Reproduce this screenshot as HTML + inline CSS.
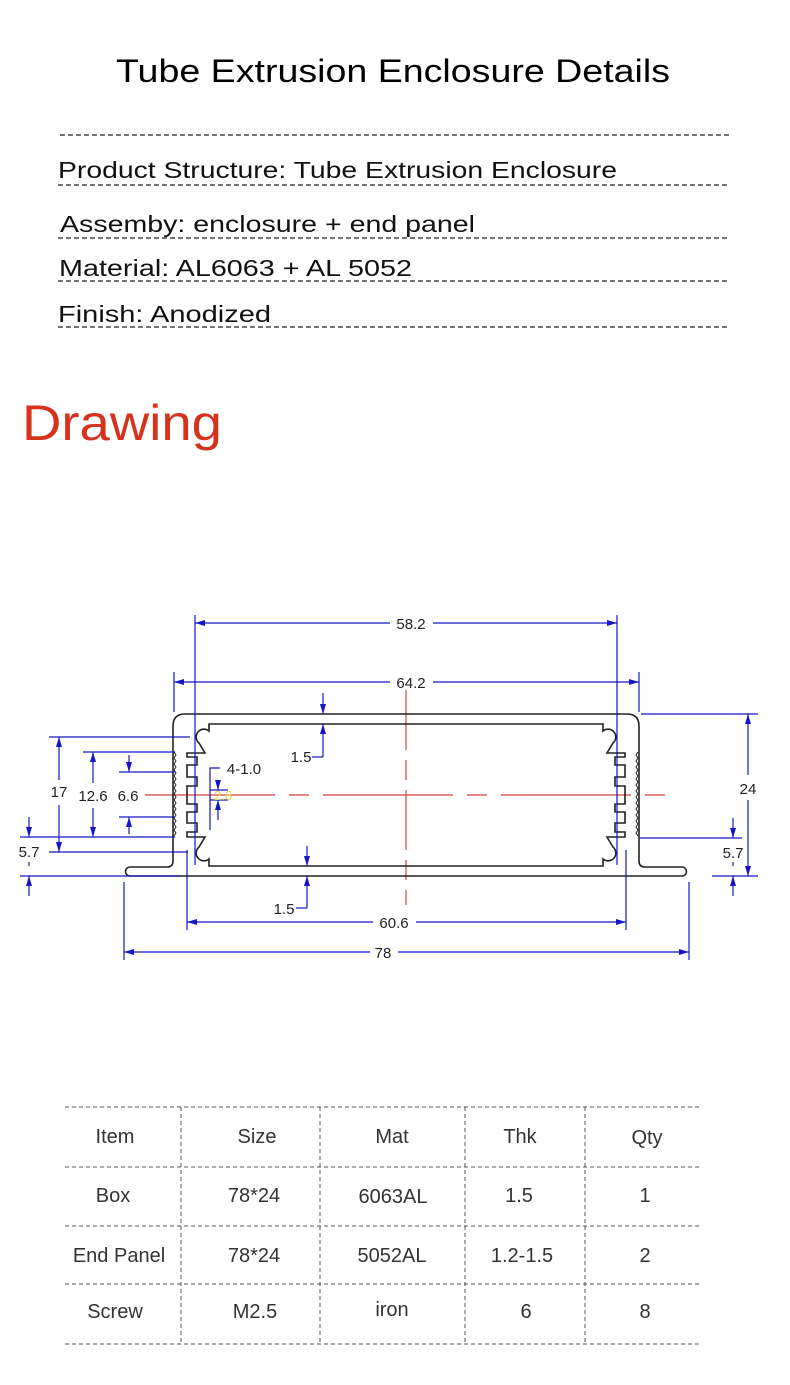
<!DOCTYPE html>
<html><head><meta charset="utf-8"><style>
html,body{margin:0;padding:0;background:#fff;width:790px;height:1385px;overflow:hidden}
svg{display:block}
</style></head><body>
<svg width="790" height="1385" viewBox="0 0 790 1385" xmlns="http://www.w3.org/2000/svg" font-family="Liberation Sans, sans-serif">
<defs>
<marker id="a" viewBox="0 0 10 6" refX="10" refY="3" markerWidth="10" markerHeight="6" markerUnits="userSpaceOnUse" orient="auto-start-reverse"><path d="M0,0 L10,3 L0,6 z" fill="#1616c8"/></marker>
</defs>
<text x="393" y="82" text-anchor="middle" font-size="32" fill="#000" textLength="554" lengthAdjust="spacingAndGlyphs">Tube Extrusion Enclosure Details</text>
<g stroke="#222" stroke-width="1.2" stroke-dasharray="5,3">
<line x1="60" y1="135" x2="731" y2="135"/><line x1="58" y1="185" x2="729" y2="185"/><line x1="58" y1="238" x2="729" y2="238"/><line x1="58" y1="281" x2="729" y2="281"/><line x1="58" y1="327" x2="729" y2="327"/>
</g>
<g font-size="23" fill="#111">
<text x="58" y="178" textLength="559" lengthAdjust="spacingAndGlyphs">Product Structure:  Tube Extrusion Enclosure</text>
<text x="60" y="232" textLength="415" lengthAdjust="spacingAndGlyphs">Assemby:  enclosure + end panel</text>
<text x="59" y="276" textLength="353" lengthAdjust="spacingAndGlyphs">Material:  AL6063 + AL 5052</text>
<text x="58" y="322" textLength="213" lengthAdjust="spacingAndGlyphs">Finish:  Anodized</text>
</g>
<text x="22" y="440" font-size="50" fill="#d7321c" textLength="200" lengthAdjust="spacingAndGlyphs">Drawing</text>

<!-- red centerlines -->
<g stroke="#d84040" stroke-width="1.2">
<line x1="145" y1="795" x2="668" y2="795" stroke-dasharray="130,14,20,14"/>
<line x1="406" y1="690" x2="406" y2="905" stroke-dasharray="60,10,20,10"/>
</g>
<!-- profile -->
<g fill="none" stroke="#222" stroke-width="1.6">
<path d="M167 867 L130 867 A4.5 4.5 0 0 0 130 876 L682 876 A4.5 4.5 0 0 0 682 867 L645 867 Q639 867 639 861 L639 726 Q639 714 627 714 L185 714 Q173 714 173 726 L173 861 Q173 867 167 867 Z"/>
<g id="h"><path d="M406 724 L209 724 L209 731 A7 7 0 1 0 199 743 L205 753 L187 753 L187 757 L197 757 L197 765 L187 765 L187 777 L197 777 L197 786 L187 786 L187 804 L197 804 L197 812 L187 812 L187 823 L197 823 L197 832 L187 832 L187 837 L205 837 L199 847 A7 7 0 1 0 209 859 L209 866 L406 866"/>
<polyline stroke-width="1" points="174,752 176,755 174,758 176,761 174,764 176,767 174,770 176,773 174,776 176,779 174,782 176,785 174,788 176,791 174,794 176,797 174,800 176,803 174,806 176,809 174,812 176,815 174,818 176,821 174,824 176,827 174,830 176,833 174,836"/></g>
<use href="#h" transform="translate(812,0) scale(-1,1)"/>
</g>
<!-- dimensions -->
<g stroke="#1616c8" stroke-width="1.2" fill="none">
<line x1="195" y1="615" x2="195" y2="865"/><line x1="617" y1="615" x2="617" y2="865"/>
<line x1="195" y1="623" x2="390" y2="623" marker-start="url(#a)"/><line x1="433" y1="623" x2="617" y2="623" marker-end="url(#a)"/>
<line x1="174" y1="672" x2="174" y2="712"/><line x1="639" y1="672" x2="639" y2="712"/>
<line x1="174" y1="682" x2="390" y2="682" marker-start="url(#a)"/><line x1="433" y1="682" x2="639" y2="682" marker-end="url(#a)"/>
<line x1="187" y1="850" x2="187" y2="930"/><line x1="626" y1="850" x2="626" y2="930"/>
<line x1="187" y1="922" x2="373" y2="922" marker-start="url(#a)"/><line x1="416" y1="922" x2="626" y2="922" marker-end="url(#a)"/>
<line x1="124" y1="882" x2="124" y2="960"/><line x1="689" y1="882" x2="689" y2="960"/>
<line x1="124" y1="952" x2="370" y2="952" marker-start="url(#a)"/><line x1="398" y1="952" x2="689" y2="952" marker-end="url(#a)"/>
<!-- right 24 -->
<line x1="641" y1="714" x2="758" y2="714"/><line x1="712" y1="876" x2="758" y2="876"/>
<line x1="748" y1="714" x2="748" y2="775" marker-start="url(#a)"/><line x1="748" y1="800" x2="748" y2="876" marker-end="url(#a)"/>
<line x1="640" y1="838" x2="742" y2="838"/>
<line x1="733" y1="818" x2="733" y2="838" marker-end="url(#a)"/><line x1="733" y1="896" x2="733" y2="876" marker-end="url(#a)"/>
<line x1="733" y1="862" x2="733" y2="866"/>
<!-- left -->
<line x1="49" y1="737" x2="190" y2="737"/><line x1="49" y1="852" x2="188" y2="852"/>
<line x1="59" y1="737" x2="59" y2="780" marker-start="url(#a)"/><line x1="59" y1="805" x2="59" y2="852" marker-end="url(#a)"/>
<line x1="83" y1="752" x2="175" y2="752"/><line x1="20" y1="837" x2="175" y2="837"/>
<line x1="93" y1="752" x2="93" y2="783" marker-start="url(#a)"/><line x1="93" y1="808" x2="93" y2="837" marker-end="url(#a)"/>
<line x1="119" y1="772" x2="175" y2="772"/><line x1="119" y1="817" x2="175" y2="817"/>
<line x1="129" y1="755" x2="129" y2="772" marker-end="url(#a)"/><line x1="129" y1="834" x2="129" y2="817" marker-end="url(#a)"/>
<line x1="20" y1="876" x2="180" y2="876"/>
<line x1="29" y1="817" x2="29" y2="837" marker-end="url(#a)"/><line x1="29" y1="896" x2="29" y2="876" marker-end="url(#a)"/>
<line x1="29" y1="862" x2="29" y2="866"/>
<!-- 1.5 top/bottom -->
<line x1="323" y1="693" x2="323" y2="714" marker-end="url(#a)"/><line x1="323" y1="757" x2="323" y2="724" marker-end="url(#a)"/><line x1="323" y1="757" x2="312" y2="757"/>
<line x1="307" y1="846" x2="307" y2="866" marker-end="url(#a)"/><line x1="307" y1="908" x2="307" y2="876" marker-end="url(#a)"/><line x1="307" y1="908" x2="296" y2="908"/>
<!-- 4-1.0 -->
<polyline points="220,768 210,768 210,830"/>
<line x1="218" y1="780" x2="218" y2="790" marker-end="url(#a)"/><line x1="218" y1="820" x2="218" y2="800" marker-end="url(#a)"/>
<line x1="210" y1="790" x2="228" y2="790"/><line x1="210" y1="800" x2="228" y2="800"/>
</g>
<text x="214" y="800" font-size="13" fill="#e8d84a">2.6</text>
<g font-size="15" fill="#222" text-anchor="middle">
<text x="411" y="629">58.2</text><text x="411" y="688">64.2</text><text x="394" y="928">60.6</text><text x="383" y="958">78</text>
<text x="748" y="794">24</text><text x="733" y="858">5.7</text>
<text x="59" y="797">17</text><text x="93" y="801">12.6</text><text x="128" y="801">6.6</text><text x="29" y="857">5.7</text>
<text x="301" y="762">1.5</text><text x="284" y="914">1.5</text><text x="244" y="774">4-1.0</text>
</g>

<!-- table -->
<g stroke="#555" stroke-width="1" stroke-dasharray="4,3">
<line x1="65" y1="1107" x2="702" y2="1107"/><line x1="65" y1="1167" x2="702" y2="1167"/><line x1="65" y1="1226" x2="702" y2="1226"/><line x1="65" y1="1284" x2="702" y2="1284"/><line x1="65" y1="1344" x2="702" y2="1344"/>
<line x1="181" y1="1107" x2="181" y2="1344"/><line x1="320" y1="1107" x2="320" y2="1344"/><line x1="465" y1="1107" x2="465" y2="1344"/><line x1="585" y1="1107" x2="585" y2="1344"/>
</g>
<g font-size="20" fill="#333" text-anchor="middle">
<text x="115" y="1143">Item</text><text x="257" y="1143">Size</text><text x="392" y="1143">Mat</text><text x="520" y="1143">Thk</text><text x="647" y="1144">Qty</text>
<text x="113" y="1202">Box</text><text x="254" y="1202">78*24</text><text x="393" y="1203">6063AL</text><text x="519" y="1202">1.5</text><text x="645" y="1202">1</text>
<text x="119" y="1262">End Panel</text><text x="254" y="1262">78*24</text><text x="392" y="1262">5052AL</text><text x="522" y="1262">1.2-1.5</text><text x="645" y="1262">2</text>
<text x="115" y="1318">Screw</text><text x="255" y="1318">M2.5</text><text x="392" y="1316">iron</text><text x="526" y="1318">6</text><text x="645" y="1318">8</text>
</g>
</svg>
</body></html>
